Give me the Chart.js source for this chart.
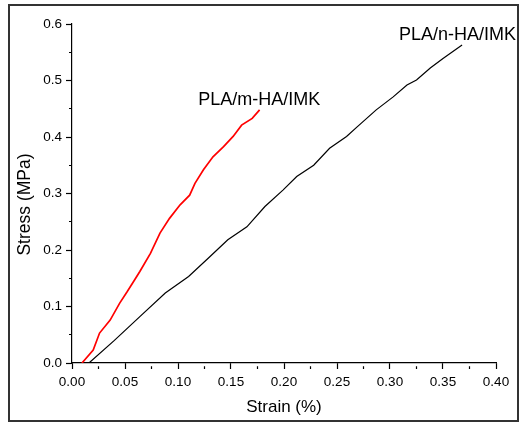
<!DOCTYPE html>
<html>
<head>
<meta charset="utf-8">
<script src="https://cdn.jsdelivr.net/npm/chart.js@4"></script>
<style>
  html, body { margin: 0; padding: 0; background: #fff; }
  #wrap { width: 520px; height: 423px; }
</style>
</head>
<body>
<div id="wrap"><canvas id="stress-chart"></canvas></div>
<script>
const strainM = [0.0094, 0.020, 0.026, 0.036, 0.045, 0.052, 0.059, 0.064, 0.074, 0.083,
                 0.092, 0.102, 0.111, 0.116, 0.124, 0.133, 0.143, 0.152, 0.160, 0.170, 0.177];
const stressM = [0, 0.023, 0.053, 0.076, 0.106, 0.126, 0.147, 0.162, 0.194, 0.230,
                 0.256, 0.280, 0.297, 0.318, 0.342, 0.365, 0.383, 0.401, 0.421, 0.433, 0.448];

const strainN = [0.016, 0.040, 0.064, 0.088, 0.110, 0.130, 0.147, 0.165, 0.182, 0.199, 0.212,
                 0.228, 0.243, 0.259, 0.269, 0.287, 0.303, 0.316, 0.325, 0.338, 0.350, 0.368];
const stressN = [0, 0.040, 0.082, 0.124, 0.153, 0.188, 0.218, 0.241, 0.277, 0.306, 0.330,
                 0.350, 0.380, 0.401, 0.418, 0.448, 0.471, 0.492, 0.501, 0.522, 0.539, 0.563];

// curve labels, placed in data units
const labels = [
  {text: "PLA/m-HA/IMK", x: 0.119, y: 0.457},
  {text: "PLA/n-HA/IMK", x: 0.3085, y: 0.572}
];
const yTitle = "Stress (MPa)";

const font = 'Arial, "Liberation Sans", sans-serif';

const pts = (xs, ys) => xs.map((x, i) => ({x: x, y: ys[i]}));

// minor ticks (odd index): only the 3px next to the axis
const minorDash = c => (c.index % 2 ? [0, 3, 3, 20] : []);

const extras = {
  id: 'extras',
  afterDraw(chart) {
    const ctx = chart.ctx;
    const xs = chart.scales.x, ys = chart.scales.y;
    ctx.save();
    ctx.fillStyle = '#000';
    ctx.font = '18px ' + font;
    ctx.textBaseline = 'alphabetic';
    ctx.textAlign = 'left';
    labels.forEach(l => ctx.fillText(l.text, xs.getPixelForValue(l.x), ys.getPixelForValue(l.y)));
    // y title, sits a bit below the axis centre like the original
    ctx.font = '17.5px ' + font;
    ctx.textAlign = 'center';
    ctx.textBaseline = 'middle';
    ctx.translate(25, (ys.top + ys.bottom) / 2 + 11);
    ctx.rotate(-Math.PI / 2);
    ctx.fillText(yTitle, 0, 0);
    ctx.setTransform(1, 0, 0, 1, 0, 0);
    // outer frame
    ctx.strokeStyle = '#333';
    ctx.lineWidth = 2;
    ctx.strokeRect(9, 5, 509, 416);
    ctx.restore();
  }
};

new Chart(document.getElementById("stress-chart"), {
  type: 'scatter',
  data: {
    datasets: [
      {
        label: "PLA/m-HA/IMK",
        data: pts(strainM, stressM),
        showLine: true,
        borderColor: '#ff0000',
        borderWidth: 1.7,
        pointRadius: 0
      },
      {
        label: "PLA/n-HA/IMK",
        data: pts(strainN, stressN),
        showLine: true,
        borderColor: '#000000',
        borderWidth: 1.2,
        pointRadius: 0
      }
    ]
  },
  options: {
    responsive: true,
    maintainAspectRatio: false,
    animation: false,
    layout: {padding: {left: 0, top: 24, right: 24, bottom: 0}},
    plugins: {
      legend: {display: false},
      tooltip: {enabled: false}
    },
    scales: {
      x: {
        type: 'linear',
        min: 0, max: 0.4,
        afterFit: s => { s.height = 60; },
        border: {color: '#000', width: 1.2},
        grid: {drawOnChartArea: false, tickLength: 6, tickColor: '#000', tickWidth: 1.2, tickBorderDash: minorDash},
        ticks: {
          stepSize: 0.025, autoSkip: false, maxRotation: 0, padding: 5,
          color: '#000', font: {family: font, size: 13.5},
          callback: (v, i) => (i % 2 ? '' : v.toFixed(2))
        },
        title: {display: true, text: 'Strain (%)', color: '#000', font: {family: font, size: 17}, padding: {bottom: 5}}
      },
      y: {
        type: 'linear',
        min: 0, max: 0.6,
        afterFit: s => { s.width = 72; },
        border: {color: '#000', width: 1.2},
        grid: {drawOnChartArea: false, tickLength: 6, tickColor: '#000', tickWidth: 1.2, tickBorderDash: minorDash},
        ticks: {
          stepSize: 0.05, autoSkip: false, padding: 4,
          color: '#000', font: {family: font, size: 13.5},
          callback: (v, i) => (i % 2 ? '' : v.toFixed(1))
        },
        title: {display: false}
      }
    }
  },
  plugins: [extras]
});
</script>
</body>
</html>
